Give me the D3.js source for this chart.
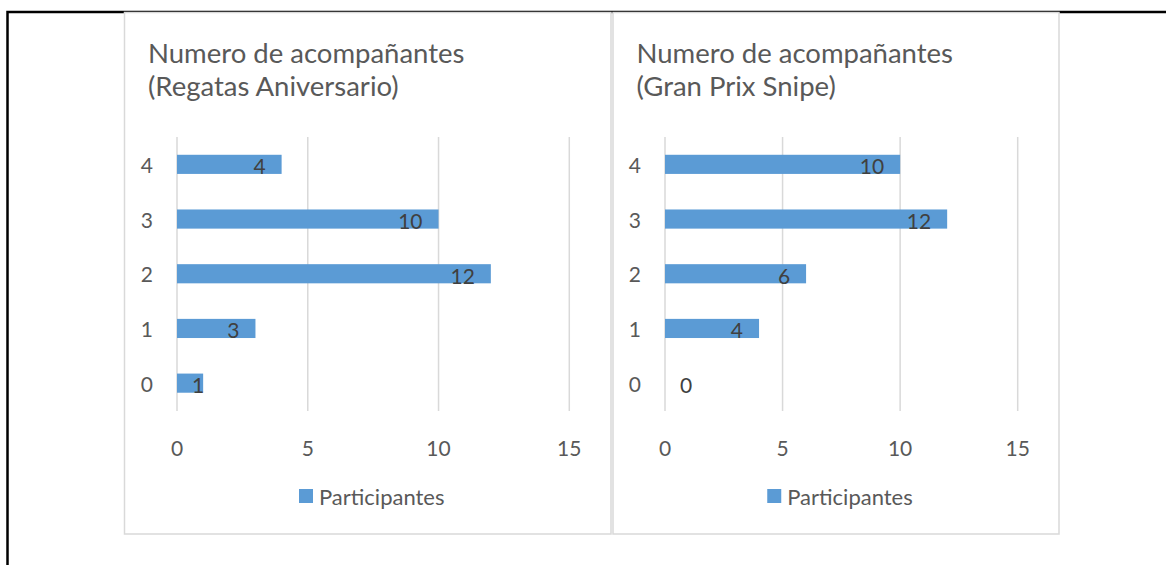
<!DOCTYPE html>
<html>
<head>
<meta charset="utf-8">
<script src="https://cdn.jsdelivr.net/npm/d3@7"></script>
<style>
  body { margin: 0; background: #fff; }
  svg { display: block; font-family: Lato, "Open Sans", sans-serif; }
</style>
</head>
<body>
<div id="chart"></div>
<script>
// Categories (number of companions), top to bottom
const categories = [4, 3, 2, 1, 0];

// Participants per category
const aniversarioValues = [4, 10, 12, 3, 1];
const granPrixValues = [10, 12, 6, 4, 0];

// Axis ticks
const xTicks = [0, 5, 10, 15];

const titles = [
    ["Numero de acompañantes", "(Regatas Aniversario)"],
    ["Numero de acompañantes", "(Gran Prix Snipe)"]
];
const legendLabel = "Participantes";

const width = 1166;
const height = 565;

const svg = d3.select("#chart")
    .append("svg")
    .attr("width", width)
    .attr("height", height);

// outer page border (black, top and left)
svg.append("path")
    .attr("d", "M7.5,565 L7.5,12 L1166,12")
    .attr("fill", "none")
    .attr("stroke", "#000")
    .attr("stroke-width", 2.5);

// panel layout
const panels = [
    { frame: [124.5, 12.5, 611, 534], x: [177, 569.3], values: aniversarioValues, title: titles[0] },
    { frame: [613, 12.5, 1059, 534], x: [665, 1017.7], values: granPrixValues, title: titles[1] }
];

panels.forEach(p => {
    const [fx0, fy0, fx1, fy1] = p.frame;
    const g = svg.append("g");

    g.append("rect")
        .attr("x", fx0).attr("y", fy0)
        .attr("width", fx1 - fx0).attr("height", fy1 - fy0)
        .attr("fill", "#fff")
        .attr("stroke", "#d9d9d9")
        .attr("stroke-width", 1.5);

    // title
    const title = g.append("text")
        .attr("x", fx0 + 23.5)
        .attr("y", 63)
        .attr("fill", "#595959")
        .style("font-size", "27.5px");
    p.title.forEach((line, i) => {
        title.append("tspan")
            .attr("x", fx0 + 23.5)
            .attr("dy", i === 0 ? 0 : 33)
            .text(line);
    });

    const x = d3.scaleLinear().domain([0, 15]).range(p.x);
    const y = d3.scaleBand()
        .domain(categories)
        .range([137, 410.5])
        .paddingInner(0.65)
        .paddingOuter(0.325);

    // vertical gridlines
    g.selectAll(".grid")
        .data(xTicks)
        .enter()
        .append("line")
        .attr("x1", d => x(d)).attr("x2", d => x(d))
        .attr("y1", 137).attr("y2", 411)
        .attr("stroke", "#d9d9d9")
        .attr("stroke-width", 1.5);

    // x tick labels
    g.selectAll(".xt")
        .data(xTicks)
        .enter()
        .append("text")
        .attr("x", d => x(d))
        .attr("y", 447)
        .attr("text-anchor", "middle")
        .attr("dominant-baseline", "central")
        .attr("fill", "#595959")
        .style("font-size", "21px")
        .text(d => d);

    // y category labels
    g.selectAll(".yt")
        .data(categories)
        .enter()
        .append("text")
        .attr("x", x(0) - 24)
        .attr("y", d => y(d) + y.bandwidth() / 2)
        .attr("text-anchor", "end")
        .attr("dominant-baseline", "central")
        .attr("fill", "#595959")
        .style("font-size", "21px")
        .text(d => d);

    const rows = categories.map((c, i) => ({ cat: c, value: p.values[i] }));

    // bars
    g.selectAll(".bar")
        .data(rows)
        .enter()
        .append("rect")
        .attr("x", x(0))
        .attr("y", d => y(d.cat))
        .attr("width", d => x(d.value) - x(0))
        .attr("height", y.bandwidth())
        .attr("fill", "#5b9bd5");

    // data labels (inside end, kept off the base)
    g.selectAll(".lbl")
        .data(rows)
        .enter()
        .append("text")
        .attr("y", d => y(d.cat) + y.bandwidth() / 2 + 1.5)
        .attr("text-anchor", "end")
        .attr("dominant-baseline", "central")
        .attr("fill", "#404040")
        .style("font-size", "21px")
        .text(d => d.value)
        .attr("x", function (d) {
            const w = this.getComputedTextLength();
            return Math.max(x(d.value) - 16, x(0) + 15 + w);
        });

    // legend
    const lg = g.append("g");
    lg.append("rect")
        .attr("x", 0).attr("y", -7)
        .attr("width", 14).attr("height", 14)
        .attr("fill", "#5b9bd5");
    const lt = lg.append("text")
        .attr("x", 20)
        .attr("y", 0)
        .attr("dominant-baseline", "central")
        .attr("fill", "#595959")
        .style("font-size", "22px")
        .text(legendLabel);
    const lw = 20 + lt.node().getComputedTextLength();
    lg.attr("transform", `translate(${(fx0 + fx1) / 2 + 4 - lw / 2}, 496)`);
});
</script>
</body>
</html>
